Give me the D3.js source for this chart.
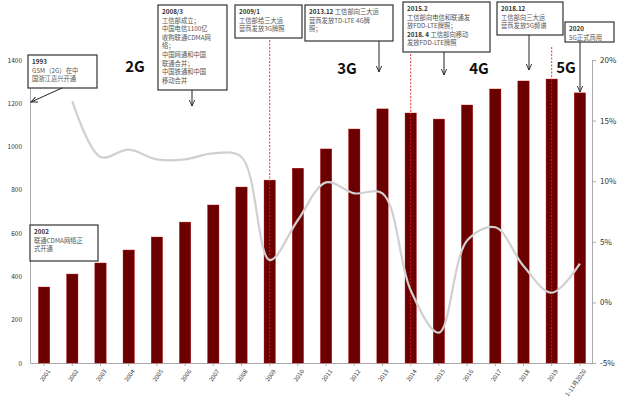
<!DOCTYPE html><html><head><meta charset="utf-8"><script src="https://d3js.org/d3.v7.min.js"></script>
<style>body{margin:0;background:#fff}text{font-family:"Noto Sans CJK SC","Noto Sans",sans-serif}</style></head><body><svg id="c" width="636" height="405"></svg>
<script>
const categories=["2001","2002","2003","2004","2005","2006","2007","2008","2009","2010","2011","2012","2013","2014","2015","2016","2017","2018","2019","1-11月2020"];
const barValues=[351,411,462,522,582,651,730,813,845,900,989,1081,1174,1155,1127,1192,1266,1303,1312,1248];
const growth=[null,16.6,12.0,12.6,11.8,11.8,12.3,12.0,3.5,6.8,9.9,9.0,9.0,1.0,-2.5,5.1,6.2,3.0,0.8,3.2];
const leftTicks=[0,200,400,600,800,1000,1200,1400];
const rightTicks=[-5,0,5,10,15,20];
const dashedYears=["2009","2014","2019"];
const eras=[["2G",135,72],["3G",347,74],["4G",479,74],["5G",566,73]];
const notes=[
 {box:[28,55,69,33],lines:[["1993",""],["","GSM（2G）在中"],["","国浙江嘉兴开通"]],arrow:[62,88,31,102]},
 {box:[30,225,68,36],lines:[["2002",""],["","联通CDMA网络正"],["","式开通"]],arrow:null},
 {box:[158,5,69,85],lines:[["2008/3",""],["","工信部成立；"],["","中国电信1100亿"],["","收购联通CDMA网"],["","络；"],["","中国网通和中国"],["","联通合并；"],["","中国铁通和中国"],["","移动合并"]],arrow:[192,90,192,106]},
 {box:[235,5,67,33],lines:[["2009/1",""],["","工信部给三大运"],["","营商发放3G牌照"]],arrow:null},
 {box:[305,5,88,36],lines:[["2013.12 ","工信部向三大运"],["","营商发放TD-LTE 4G牌"],["","照；"]],arrow:[379,41,379,72]},
 {box:[403,2,87,50],lines:[["2015.2",""],["","工信部向电信和联通发"],["","放FDD-LTE牌照；"],["2018. 4 ","工信部向移动"],["","发放FDD-LTE牌照"]],arrow:[444,52,444,75]},
 {box:[497,2,66,33],lines:[["2018.12",""],["","工信部向三大运"],["","营商发放5G频谱"]],arrow:[529,35,529,70]},
 {box:[565,22,49,20],lines:[["2020",""],["","5G正式商用"]],arrow:[580,42,580,92]}
];
const svg=d3.select("#c");
const x=d3.scaleBand().domain(categories).range([30,594]).paddingInner(0.6).paddingOuter(0.3);
const yL=d3.scaleLinear().domain([0,1400]).range([363,60]);
const yR=d3.scaleLinear().domain([-5,20]).range([363,60]);
svg.append("defs").append("marker").attr("id","ar").attr("viewBox","0 0 10 10").attr("refX",9).attr("refY",5).attr("markerWidth",7).attr("markerHeight",7).attr("orient","auto")
 .append("path").attr("d","M0,1L9,5L0,9").attr("fill","none").attr("stroke","#222").attr("stroke-width",1.3);
const la=svg.append("g").attr("transform","translate(30,0)").call(d3.axisLeft(yL).tickValues(leftTicks).tickFormat(d3.format("d")).tickSize(0).tickPadding(8));
la.select(".domain").attr("stroke","#aaa");
la.selectAll("text").attr("font-size",6.5).attr("fill","#333");
const ra=svg.append("g").attr("transform","translate(592,0)").call(d3.axisRight(yR).tickValues(rightTicks).tickFormat(d=>d+"%").tickSize(4).tickPadding(4));
ra.selectAll(".domain,line").attr("stroke","#aaa");
ra.selectAll("text").attr("font-size",8).attr("fill","#333");
const ba=svg.append("g").attr("transform","translate(0,363)").call(d3.axisBottom(x).tickSize(3).tickSizeOuter(0));
ba.select(".domain").attr("stroke","#aaa");ba.selectAll("line").attr("stroke","#aaa");
ba.selectAll("text").attr("font-size",6).attr("fill","#333").attr("text-anchor","end").attr("transform","rotate(-55)").attr("dx","-3").attr("dy","4");
svg.selectAll(".bar").data(barValues).join("rect").attr("x",(d,i)=>x(categories[i])).attr("width",x.bandwidth())
 .attr("y",d=>yL(d)).attr("height",d=>363-yL(d)).attr("fill","#6b0000").attr("stroke","#b00000").attr("stroke-width",0.4);
dashedYears.forEach((c,i)=>{const xx=x(c)+x.bandwidth()/2;
 svg.append("line").attr("x1",xx).attr("x2",xx).attr("y1",[40,54,47][i]).attr("y2",363).attr("stroke","#e02020").attr("stroke-width",0.9).attr("stroke-dasharray","2,1.5");});
const pts=growth.map((g,i)=>[x(categories[i])+x.bandwidth()/2,g]).filter(p=>p[1]!=null);
svg.append("path").attr("d",d3.line().x(p=>p[0]).y(p=>yR(p[1])).curve(d3.curveCatmullRom)(pts)).attr("fill","none").attr("stroke","#d0d0d0").attr("stroke-width",2.2);
eras.forEach(e=>svg.append("text").attr("x",e[1]).attr("y",e[2]).attr("text-anchor","middle").attr("font-size",15).attr("font-weight","bold").attr("fill","#111").text(e[0]));
notes.forEach(n=>{const [bx,by,bw,bh]=n.box;
 svg.append("rect").attr("x",bx).attr("y",by).attr("width",bw).attr("height",bh).attr("fill","#fff").attr("stroke","#333").attr("stroke-width",1.2);
 n.lines.forEach((l,j)=>{const t=svg.append("text").attr("x",bx+4).attr("y",by+9+j*8.6).attr("font-size",6.3).attr("fill","#333");
  if(l[0])t.append("tspan").attr("font-weight","bold").text(l[0]);
  if(l[1])t.append("tspan").attr("fill","#555").text(l[1]);});
 if(n.arrow) svg.append("line").attr("x1",n.arrow[0]).attr("y1",n.arrow[1]).attr("x2",n.arrow[2]).attr("y2",n.arrow[3]).attr("stroke","#222").attr("stroke-width",1).attr("marker-end","url(#ar)");
});
</script></body></html>
